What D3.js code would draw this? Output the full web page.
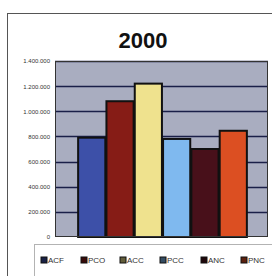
<!DOCTYPE html>
<html>
<head>
<meta charset="utf-8">
<script src="https://cdn.jsdelivr.net/npm/d3@7"></script>
<style>
  body { margin: 0; background: #fff; }
  svg { display: block; font-family: Arial, "Liberation Sans", sans-serif; }
</style>
</head>
<body>
<div id="chart"></div>
<script>
// chart data
const categories = ['ACF', 'PCO', 'ACC', 'PCC', 'ANC', 'PNC'];
const values = [790000, 1080000, 1220000, 780000, 700000, 845000];
const yTicks = [0, 200000, 400000, 600000, 800000, 1000000, 1200000, 1400000];
const barColors = ['#3d50a8', '#861c16', '#efe28e', '#7fb9ef', '#48101a', '#dc4f22'];

const width = 272, height = 276;

const svg = d3.select('#chart').append('svg')
  .attr('width', width)
  .attr('height', height);

// outer frame
svg.append('rect')
  .attr('x', 7.5).attr('y', 13.5)
  .attr('width', 280).attr('height', 280)
  .attr('fill', '#fff')
  .attr('stroke', '#555')
  .attr('stroke-width', 1);

// title
svg.append('text')
  .attr('x', 143).attr('y', 48)
  .attr('text-anchor', 'middle')
  .style('font-size', '22px')
  .style('font-weight', 'bold')
  .style('fill', '#111')
  .text('2000');

const plot = { left: 55, right: 268, top: 61, bottom: 237 };

const y = d3.scaleLinear()
  .domain([0, 1400000])
  .range([plot.bottom, plot.top]);

const x = d3.scaleBand()
  .domain(categories)
  .range([77, 248])
  .padding(0.04);

// plot background
svg.append('rect')
  .attr('x', plot.left).attr('y', plot.top)
  .attr('width', plot.right - plot.left)
  .attr('height', plot.bottom - plot.top)
  .attr('fill', '#a9adc0');

// gridlines
svg.selectAll('.grid')
  .data(yTicks.filter(d => d > 0))
  .enter().append('line')
  .attr('class', 'grid')
  .attr('x1', plot.left).attr('x2', plot.right)
  .attr('y1', d => Math.round(y(d)) + 0.5)
  .attr('y2', d => Math.round(y(d)) + 0.5)
  .attr('stroke', '#1a1f48')
  .attr('stroke-width', 1.3);

// y axis labels
const fmt = d => d3.format(',')(d).replace(/,/g, '.');
const yAxis = d3.axisLeft(y).tickValues(yTicks).tickFormat(fmt).tickSize(0).tickPadding(5);
const ya = svg.append('g')
  .attr('transform', `translate(${plot.left},0)`)
  .call(yAxis);
ya.select('.domain').remove();
ya.selectAll('text')
  .style('font-size', '6px')
  .style('fill', '#333');

// bars
svg.selectAll('.bar')
  .data(values)
  .enter().append('rect')
  .attr('class', 'bar')
  .attr('x', (d, i) => x(categories[i]))
  .attr('y', d => y(d))
  .attr('width', x.bandwidth())
  .attr('height', d => plot.bottom - y(d))
  .attr('fill', (d, i) => barColors[i])
  .attr('stroke', '#111')
  .attr('stroke-width', 2);

// plot border
svg.append('rect')
  .attr('x', plot.left + 0.5).attr('y', plot.top + 0.5)
  .attr('width', plot.right - plot.left - 1)
  .attr('height', plot.bottom - plot.top - 1)
  .attr('fill', 'none')
  .attr('stroke', '#333')
  .attr('stroke-width', 1);

// legend
svg.append('rect')
  .attr('x', 34.5).attr('y', 244.5)
  .attr('width', 250).attr('height', 40)
  .attr('fill', '#fff')
  .attr('stroke', '#666')
  .attr('stroke-width', 1)
  .attr('stroke-dasharray', '1,1');

const legendX = [41, 81, 120, 160, 201, 241];
const leg = svg.selectAll('.leg')
  .data(categories)
  .enter().append('g')
  .attr('class', 'leg')
  .attr('transform', (d, i) => `translate(${legendX[i]},257)`);

leg.append('rect')
  .attr('width', 6).attr('height', 6)
  .attr('fill', (d, i) => d3.color(barColors[i]).darker(2.5))
  .attr('stroke', '#111')
  .attr('stroke-width', 1);

leg.append('text')
  .attr('x', 7).attr('y', 6)
  .style('font-size', '8px')
  .style('fill', '#333')
  .text(d => d);
</script>
</body>
</html>
